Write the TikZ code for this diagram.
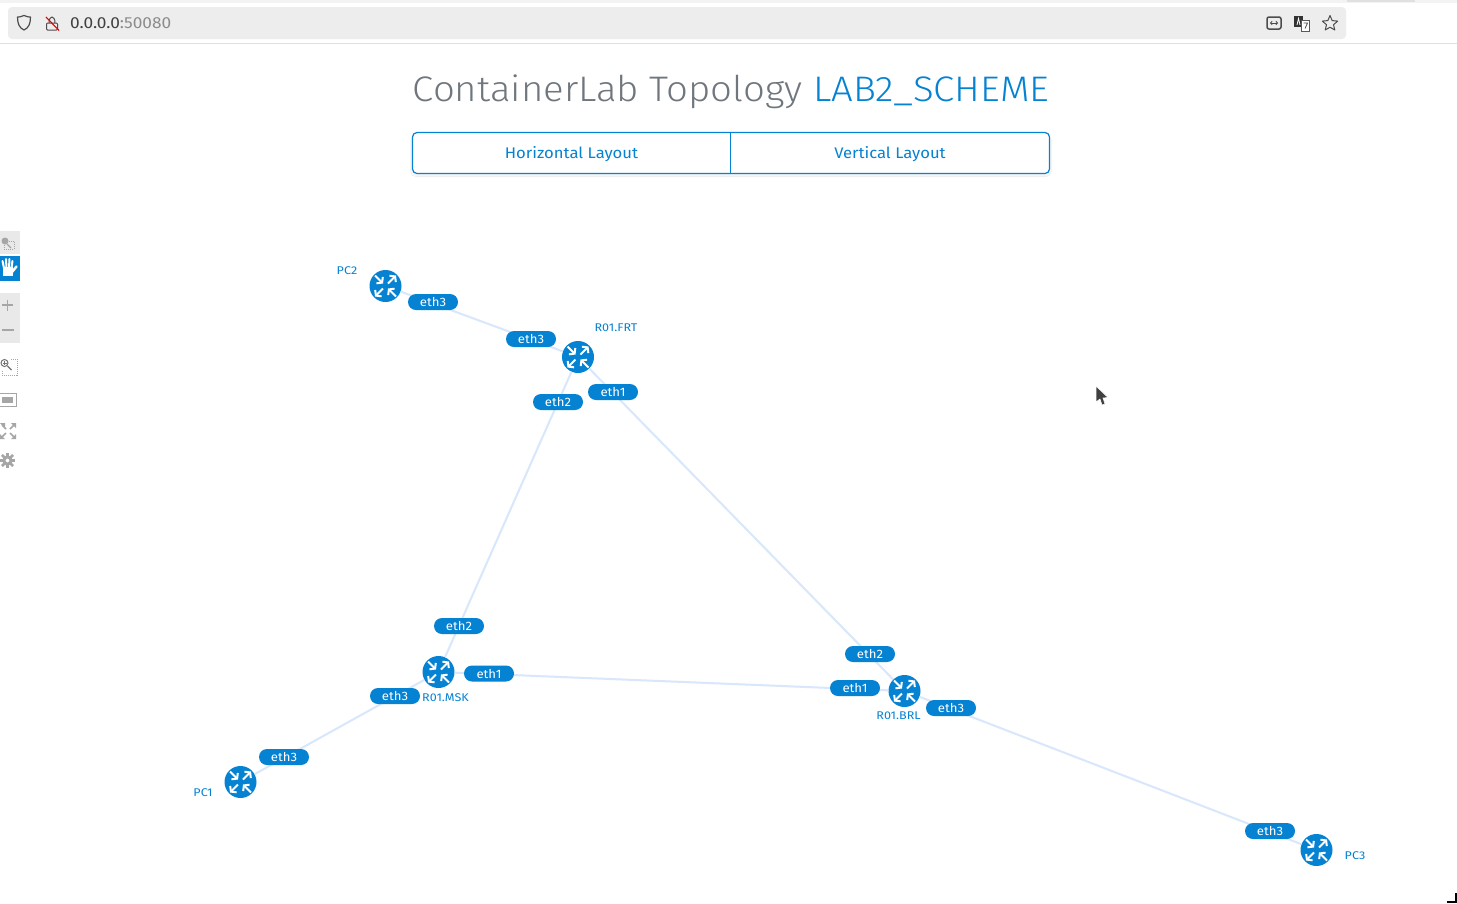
\documentclass[tikz,border=0pt]{standalone}
\usepackage{fontspec}
\setmainfont[FakeStretch=1.08]{Fira Sans}
\newfontfamily\uifont[FakeStretch=1.08]{Fira Sans Light}
\newfontfamily\labfont[FakeStretch=1.12]{Fira Sans}
\usetikzlibrary{arrows.meta}
\definecolor{blu}{HTML}{0582D2}
\definecolor{lnk}{HTML}{D8E7FB}
\definecolor{bar}{HTML}{EDEDEE}
\definecolor{tool}{HTML}{E9E9E9}
\definecolor{ico}{HTML}{A6A6A6}
\definecolor{ttl}{HTML}{6F767D}
\tikzset{
  x=1pt,y=-1pt,
  rtr/.style={circle,fill=blu,draw=none,minimum size=32pt,inner sep=0pt},
  pill/.style={rounded corners=8pt,fill=blu,text=white,minimum width=50pt,minimum height=16pt,inner sep=0pt,font=\fontsize{12.2}{13}\selectfont},
  lbl/.style={text=blu,inner sep=0pt,font=\labfont\fontsize{11.2}{12}\selectfont},
  link/.style={draw=lnk,line width=2pt},
  ar/.style={draw=white,line width=2pt,-{Straight Barb[length=3.5pt,width=9pt,line width=2pt]}},
  chrome/.style={draw=#1,line width=1.2pt,line join=round},
  sidei/.style={draw=ico,line width=1.1pt},
  pics/arrows/.style={code={
    \draw[ar] (-10.5,-10.5) -- (-2.5,-2.5);
    \draw[ar] (2.5,-2.5) -- (10.5,-10.5);
    \draw[ar] (-2.5,2.5) -- (-10.5,10.5);
    \draw[ar] (10.5,10.5) -- (2.5,2.5);
  }}
}
\begin{document}
\begin{tikzpicture}
\useasboundingbox (0,0) rectangle (1457,903);
\fill[white] (0,0) rectangle (1457,903);
% browser chrome
\fill[bar!70!white] (0,0) rectangle (1457,2.5);
\fill[white] (0,2.5) rectangle (1457,43);
\fill[black!12] (0,43) rectangle (1457,44);
\fill[black!12] (1347,0) rectangle (1415,1.5);
\fill[bar,rounded corners=4pt] (8,7) rectangle (1346,39);
% shield
\draw[chrome=black!70] (24,15.5) .. controls (21,17) and (19,17) .. (17.5,17) .. controls (17.5,24) and (19.5,28) .. (24,30) .. controls (28.5,28) and (30.5,24) .. (30.5,17) .. controls (29,17) and (27,17) .. (24,15.5) -- cycle;
% lock
\draw[chrome=black!70,line width=1pt,rounded corners=1pt] (46.5,23) rectangle (57.5,30);
\draw[chrome=black!70,line width=1pt] (49,23) .. controls (49,15) and (55,15) .. (55,23);
\draw[draw=red!90!black,line width=1.1pt] (46,17) -- (59,30.5);
\node[anchor=west,inner sep=0pt,font=\fontsize{16}{17}\selectfont,text=black!75] (url) at (70,23) {0.0.0.0\textcolor{black!45}{:50080}};
% right icons
\draw[chrome=black!70,line width=1.5pt,rounded corners=2pt] (1267,17) rectangle (1281,29);
\draw[black!70,line width=.9pt,{Straight Barb[length=1.5pt,width=3.5pt]}-{Straight Barb[length=1.5pt,width=3.5pt]}] (1270,23) -- (1278,23);
\fill[black!80] (1294,15.5) rectangle (1303,27);
\fill[white] (1301,20) rectangle (1309.5,31);
\draw[black!65,line width=.8pt] (1301,20) rectangle (1309.5,31);
\draw[white,line width=.8pt] (1297,25) -- (1298.5,18.5) -- (1300,25);
\draw[black!70,line width=.8pt] (1303.5,23) -- (1307.5,23) -- (1305,28.5);
\draw[chrome=black!70,line width=1pt] (1330,15.5) -- (1332.2,20.6) -- (1337.7,21.1) -- (1333.5,24.7) -- (1334.8,30) -- (1330,27.2) -- (1325.2,30) -- (1326.5,24.7) -- (1322.3,21.1) -- (1327.8,20.6) -- cycle;
% title
\node[anchor=base,inner sep=0pt,font=\uifont\fontsize{35.5}{38}\selectfont,text=ttl] (title) at (731,101) {ContainerLab Topology \textcolor{blu}{LAB2\_SCHEME}};
% buttons
\fill[black!6,rounded corners=5pt] (411,136) rectangle (1051,177);
\fill[black!4,rounded corners=5pt] (410,136) rectangle (1052,176);
\draw[blu,fill=white,line width=1.2pt,rounded corners=4.5pt] (412.5,132.5) rectangle (1049.5,173.5);
\draw[blu,line width=1.2pt] (730.5,132.5) -- (730.5,173.5);
\node[text=blu,inner sep=0pt,font=\fontsize{15.4}{18}\selectfont] (hl) at (571.5,154.5) {Horizontal Layout};
\node[text=blu,inner sep=0pt,font=\fontsize{15.4}{18}\selectfont] (vl) at (890,154.5) {Vertical Layout};
% side toolbar
\fill[tool] (0,231) rectangle (20,254);
\fill[blu] (0,256) rectangle (20,281);
\fill[tool] (0,293) rectangle (20,343);
\draw[ico,line width=.8pt,dash pattern=on 1pt off 1pt] (4,241) rectangle (14,249);
\fill[ico] (5,241) circle (3.5pt);
\draw[sidei] (7,244) -- (11,248);
% hand
\begin{scope}[white,line cap=round]
\fill (3,267) rectangle (13,276);
\draw[line width=2pt] (4,268) -- (2.5,261);
\draw[line width=2pt] (6.5,268) -- (6,259);
\draw[line width=2pt] (9,268) -- (9.5,259);
\draw[line width=2pt] (11.5,268) -- (12.5,261);
\draw[line width=2.5pt] (12,272) -- (16.5,266.5);
\end{scope}
\draw[ico,line width=1.3pt] (2,305) -- (13,305) (7.5,299.5) -- (7.5,310.5);
\draw[ico,line width=1.3pt] (2,330) -- (14,330);
\draw[ico,line width=.8pt,dash pattern=on 1pt off 1pt] (2,359) rectangle (17,375);
\fill[white] (0,357) rectangle (11,371);
\draw[black!55,line width=1pt] (4.5,363) circle (3.5pt);
\draw[black!55,line width=1.3pt] (7.5,366) -- (11.5,370);
\draw[black!55,line width=.7pt] (2.5,363) -- (6.5,363) (4.5,361) -- (4.5,365);
\fill[ico] (2,396.5) rectangle (13,403);
\draw[ico,line width=.8pt] (0,393.5) -- (16,393.5) -- (16,406) -- (0,406);
\fill[ico] (0,423) -- (5,423) -- (5,428) -- cycle;
\fill[ico] (16,423) -- (11,423) -- (16,428) -- cycle;
\fill[ico] (0,439) -- (5,439) -- (0,434) -- cycle;
\fill[ico] (16,439) -- (11,439) -- (16,434) -- cycle;
\draw[ico,line width=1.6pt] (2,425) -- (6,429) (14,425) -- (10,429) (2,437) -- (6,433) (14,437) -- (10,433);
\draw[ico,line width=3pt] (7.5,460.5) circle (3.6pt);
\foreach \a in {0,45,...,315}{\draw[ico,line width=2.6pt] (7.5,460.5) ++(\a:4.5pt) -- ++(\a:3.3pt);}
% routers
\node[rtr] (pc2) at (385.5,286) {};
\node[rtr] (frt) at (578,357) {};
\node[rtr] (msk) at (438.5,672) {};
\node[rtr] (brl) at (904.5,691) {};
\node[rtr] (pc1) at (240.5,782) {};
\node[rtr] (pc3) at (1316.5,850) {};
% links
\draw[link] (pc2) -- (frt);
\draw[link] (frt) -- (msk);
\draw[link] (frt) -- (brl);
\draw[link] (msk) -- (brl);
\draw[link] (msk) -- (pc1);
\draw[link] (brl) -- (pc3);
\foreach \n in {pc2,frt,msk,brl,pc1,pc3}{\pic at (\n) {arrows};}
% pills
\node[pill] (p1) at (433,302) {eth3};
\node[pill] (p2) at (531,339) {eth3};
\node[pill] (p3) at (613,392) {eth1};
\node[pill] (p4) at (558,402) {eth2};
\node[pill] (p5) at (459,626) {eth2};
\node[pill] (p6) at (489,673.5) {eth1};
\node[pill] (p7) at (395,696) {eth3};
\node[pill] (p8) at (284,757) {eth3};
\node[pill] (p9) at (870,654) {eth2};
\node[pill] (p10) at (855,688) {eth1};
\node[pill] (p11) at (951,708) {eth3};
\node[pill] (p12) at (1270,831) {eth3};
% labels
\node[lbl] (l1) at (347,270.5) {PC2};
\node[lbl] (l2) at (616,327.5) {R01.FRT};
\node[lbl] (l3) at (445.5,697.5) {R01.MSK};
\node[lbl] (l4) at (898.5,716) {R01.BRL};
\node[lbl] (l5) at (203,792.5) {PC1};
\node[lbl] (l6) at (1355,855.5) {PC3};
% cursor
\fill[black!75,draw=white,line width=.6pt] (1096,386) -- (1096,402) -- (1100,399) -- (1102,405) -- (1105,404) -- (1103,398) -- (1108,397.5) -- cycle;
% corner mark
\fill[black] (1447,901) rectangle (1457,903);
\fill[black] (1455,893) rectangle (1457,903);
\end{tikzpicture}
\end{document}
